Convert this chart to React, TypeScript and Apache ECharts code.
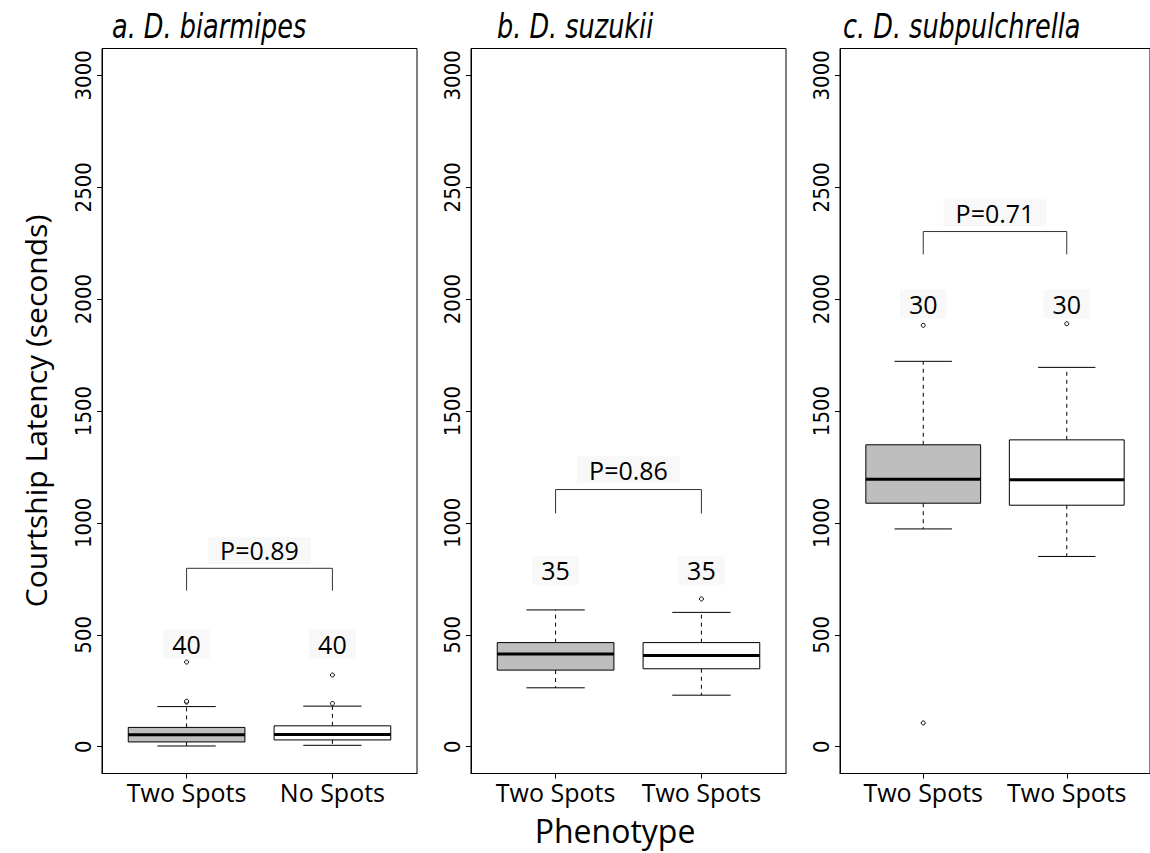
import React, { useEffect, useRef } from "react";
import * as echarts from "echarts";

// ---------- data ----------
const panelTitles = ["a. D. biarmipes", "b. D. suzukii", "c. D. subpulchrella"];
const categoriesA = ["Two Spots", "No Spots"];
const categoriesB = ["Two Spots", "Two Spots"];
const categoriesC = ["Two Spots", "Two Spots"];
const yTicks = [0, 500, 1000, 1500, 2000, 2500, 3000];
const xTicks = [1, 2];

// [x, lower whisker, Q1, median, Q3, upper whisker]
const boxesA = [
  [1, 3, 21, 53, 86, 179],
  [2, 6, 30, 54, 93, 181],
];
const boxesB = [
  [1, 263, 342, 414, 465, 611],
  [2, 230, 348, 407, 465, 600],
];
const boxesC = [
  [1, 973, 1088, 1195, 1349, 1722],
  [2, 850, 1079, 1193, 1371, 1695],
];
const outliersA = [[1, 199], [1, 203], [1, 378], [2, 193], [2, 320]];
const outliersB = [[2, 660]];
const outliersC = [[1, 1883], [1, 106], [2, 1890]];

// sample sizes [x, y, n]
const countsA = [[1, 459, "40"], [2, 459, "40"]];
const countsB = [[1, 788, "35"], [2, 788, "35"]];
const countsC = [[1, 1978, "30"], [2, 1978, "30"]];

// significance brackets
const bracketA = [[1, 697], [1, 797], [2, 797], [2, 697]];
const bracketB = [[1, 1042], [1, 1149], [2, 1149], [2, 1042]];
const bracketC = [[1, 2200], [1, 2302], [2, 2302], [2, 2200]];
const pLabelA = [[1.5, 877, "P=0.89"]];
const pLabelB = [[1.5, 1238, "P=0.86"]];
const pLabelC = [[1.5, 2386, "P=0.71"]];

const boxFills = ["#bebebe", "#ffffff"];

const panels = [
  { cats: categoriesA, boxes: boxesA, outliers: outliersA, counts: countsA, bracket: bracketA, p: pLabelA },
  { cats: categoriesB, boxes: boxesB, outliers: outliersB, counts: countsB, bracket: bracketB, p: pLabelB },
  { cats: categoriesC, boxes: boxesC, outliers: outliersC, counts: countsC, bracket: bracketC, p: pLabelC },
];

const gridLefts = [102, 471, 840];
const titleLefts = [112, 497, 843];
const SANS = "'Open Sans', 'Noto Sans', sans-serif";
const NARROW = "'DejaVu Sans Condensed', sans-serif";

function renderBox(params: any, api: any) {
  const x = api.value(0);
  const lo = api.value(1);
  const q1 = api.value(2);
  const med = api.value(3);
  const q3 = api.value(4);
  const hi = api.value(5);
  const hw = 0.4;
  const cw = 0.2;
  const tl = api.coord([x - hw, q3]);
  const br = api.coord([x + hw, q1]);
  const cTop = api.coord([x, q3]);
  const cHi = api.coord([x, hi]);
  const cBot = api.coord([x, q1]);
  const cLo = api.coord([x, lo]);
  const capHiL = api.coord([x - cw, hi]);
  const capHiR = api.coord([x + cw, hi]);
  const capLoL = api.coord([x - cw, lo]);
  const capLoR = api.coord([x + cw, lo]);
  const mL = api.coord([x - hw, med]);
  const mR = api.coord([x + hw, med]);
  const dash = { stroke: "#000", lineWidth: 1, lineDash: [4, 4] };
  const solid = { stroke: "#000", lineWidth: 1 };
  return {
    type: "group",
    children: [
      { type: "line", shape: { x1: cTop[0], y1: cTop[1], x2: cHi[0], y2: cHi[1] }, style: dash },
      { type: "line", shape: { x1: cBot[0], y1: cBot[1], x2: cLo[0], y2: cLo[1] }, style: dash },
      { type: "line", shape: { x1: capHiL[0], y1: capHiL[1], x2: capHiR[0], y2: capHiR[1] }, style: solid },
      { type: "line", shape: { x1: capLoL[0], y1: capLoL[1], x2: capLoR[0], y2: capLoR[1] }, style: solid },
      {
        type: "rect",
        shape: { x: tl[0], y: tl[1], width: br[0] - tl[0], height: br[1] - tl[1] },
        style: { fill: boxFills[params.dataIndex], stroke: "#000", lineWidth: 1 },
      },
      { type: "line", shape: { x1: mL[0], y1: mL[1], x2: mR[0], y2: mR[1] }, style: { stroke: "#000", lineWidth: 3 } },
    ],
  };
}

export default function App() {
  const ref = useRef<HTMLDivElement>(null);
  useEffect(() => {
    if (!ref.current) return;
    const chart = echarts.init(ref.current, null, { renderer: "svg" });
    const grid: any[] = [];
    const xAxis: any[] = [];
    const yAxis: any[] = [];
    const series: any[] = [];
    panels.forEach((p, i) => {
      grid.push({
        left: gridLefts[i],
        top: 48.5,
        width: 315,
        height: 725,
        show: true,
        borderColor: "#000",
        borderWidth: 1,
        backgroundColor: "transparent",
      });
      xAxis.push({
        type: "value",
        gridIndex: i,
        min: 0.42,
        max: 2.58,
        axisLine: { show: true, onZero: false, lineStyle: { color: "#000", width: 1 } },
        axisTick: { show: true, customValues: xTicks, length: 5, lineStyle: { color: "#000" } },
        axisLabel: {
          customValues: xTicks,
          formatter: (v: number) => p.cats[Math.round(v) - 1] || "",
          fontSize: 25,
          fontFamily: SANS,
          color: "#000",
          margin: 6,
        },
        splitLine: { show: false },
      });
      yAxis.push({
        type: "value",
        gridIndex: i,
        min: -120,
        max: 3120,
        axisLine: { show: true, onZero: false, lineStyle: { color: "#000", width: 1 } },
        axisTick: { show: true, customValues: yTicks, length: 5, lineStyle: { color: "#000" } },
        axisLabel: {
          customValues: yTicks,
          formatter: (v: number) => String(v),
          rotate: 90,
          fontSize: 22,
          fontFamily: NARROW,
          color: "#000",
          margin: 8,
        },
        splitLine: { show: false },
      });
      series.push({
        type: "custom",
        xAxisIndex: i,
        yAxisIndex: i,
        data: p.boxes,
        encode: { x: 0, y: [1, 2, 3, 4, 5] },
        renderItem: renderBox,
        silent: true,
      });
      series.push({
        type: "line",
        xAxisIndex: i,
        yAxisIndex: i,
        data: p.bracket,
        symbol: "none",
        lineStyle: { color: "#333", width: 1 },
        silent: true,
      });
      series.push({
        type: "scatter",
        xAxisIndex: i,
        yAxisIndex: i,
        data: p.counts,
        symbolSize: 0,
        itemStyle: { opacity: 1 },
        label: {
          show: true,
          position: "inside",
          formatter: (d: any) => d.value[2],
          fontSize: 25,
          fontFamily: SANS,
          color: "#000",
          backgroundColor: "#f8f8f8",
          padding: [2, 9],
        },
        silent: true,
      });
      series.push({
        type: "scatter",
        xAxisIndex: i,
        yAxisIndex: i,
        data: p.p,
        symbolSize: 0,
        itemStyle: { opacity: 1 },
        label: {
          show: true,
          position: "inside",
          formatter: (d: any) => d.value[2],
          fontSize: 25,
          fontFamily: SANS,
          color: "#000",
          backgroundColor: "#f8f8f8",
          padding: [1, 12],
        },
        silent: true,
      });
      series.push({
        type: "scatter",
        xAxisIndex: i,
        yAxisIndex: i,
        data: p.outliers,
        symbol: "circle",
        symbolSize: 4,
        z: 5,
        itemStyle: { color: "#fff", borderColor: "#000", borderWidth: 1, opacity: 1 },
        silent: true,
      });
    });

    const graphic: any[] = panelTitles.map((t, i) => ({
      type: "text",
      x: titleLefts[i],
      y: 26,
      scaleX: 0.86,
      style: {
        text: t,
        font: `italic 33px 'DejaVu Sans Condensed', sans-serif`,
        fill: "#000",
        textAlign: "left",
        textVerticalAlign: "middle",
      },
    }));
    graphic.push({
      type: "text",
      x: 35,
      y: 411,
      rotation: Math.PI / 2,
      style: {
        text: "Courtship Latency (seconds)",
        font: `30px ${SANS}`,
        fill: "#000",
        textAlign: "center",
        textVerticalAlign: "middle",
      },
    });
    graphic.push({
      type: "text",
      x: 615,
      y: 830,
      style: {
        text: "Phenotype",
        font: `32px ${SANS}`,
        fill: "#000",
        textAlign: "center",
        textVerticalAlign: "middle",
      },
    });

    chart.setOption({
      animation: false,
      backgroundColor: "#fff",
      grid,
      xAxis,
      yAxis,
      series,
      graphic,
    });
    return () => chart.dispose();
  }, []);
  return (
    <div
      ref={ref}
      style={{ position: "fixed", left: 0, top: 0, width: 1150, height: 853 }}
    />
  );
}
